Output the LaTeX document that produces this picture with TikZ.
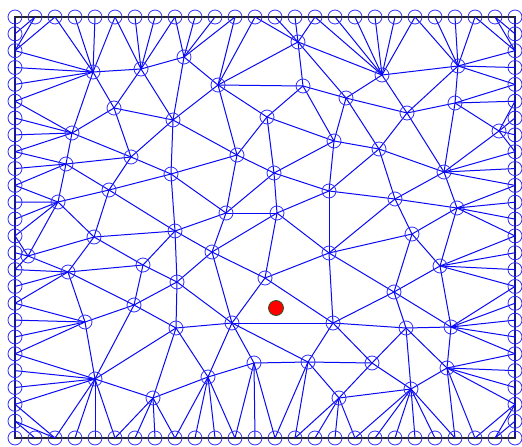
\documentclass[tikz,border=0pt]{standalone}
\definecolor{meshblue}{RGB}{10,10,245}
\definecolor{ringblue}{RGB}{45,45,255}
\definecolor{dotedge}{RGB}{40,90,40}
\begin{document}
\begin{tikzpicture}[x=1pt,y=-1pt,
  edge/.style={draw=meshblue,line width=1pt},
  ring/.style={draw=ringblue,line width=0.8pt},
  frame/.style={draw=black!85,line width=1.6pt}]
\useasboundingbox (0,0) rectangle (522,447);
\fill[white] (0,0) rectangle (522,447);
% boundary nodes
\foreach \i in {0,...,25}{
  \coordinate (T\i) at ({15+20*\i},17);
  \coordinate (B\i) at ({15+20*\i},438);
  \coordinate (L\i) at (15,{17+16.84*\i});
  \coordinate (R\i) at (515,{17+16.84*\i});
}
% interior nodes
\foreach \n/\x/\y in {1/93/72,2/141/69,3/184/57,4/298/42,5/382/75,6/458/66,7/218/85,8/303/86,
  9/346/98,10/114/108,11/173/120,12/267/117,13/407/113,14/455/103,15/499/131,16/72/133,
  17/131/157,18/237/155,19/334/141,20/379/149,21/66/164,22/109/190,23/171/174,24/274/173,
  25/329/191,26/444/172,27/58/202,28/226/213,29/277/213,30/395/199,31/457/208,32/94/237,
  33/175/231,34/212/252,35/329/253,36/412/234,37/28/256,38/68/272,39/143/265,40/265/278,
  41/440/266,42/177/282,43/394/292,44/134/305,45/85/322,46/176/328,47/232/323,48/333/323,
  49/406/328,50/451/327,51/254/363,52/308/362,53/372/363,54/447/368,55/95/379,56/208/377,
  57/153/398,58/339/398,59/411/389}{
  \coordinate (n\n) at (\x,\y);
}
\coordinate (dot) at (276,308);
% frame
\draw[frame] (T0) rectangle (B25);
% boundary chains on the left and right sides
\foreach \i [evaluate=\i as \j using int(\i+1)] in {0,...,24}{
  \draw[edge] (L\i) -- (L\j);
  \draw[edge] (R\i) -- (R\j);
}
% boundary to interior connectors
\foreach \a/\b in {T1/L1,T1/L2,T2/L2,T2/n1,T3/n1,T4/n1,T5/n1,T5/n2,T6/n2,T7/n2,T8/n2,T8/n3,
  T9/n3,T10/n3,T11/n3,T11/n7,T12/n7,T12/n4,T13/n4,T14/n4,T15/n4,T15/n5,T16/n5,T17/n5,T18/n5,
  T19/n5,T20/n5,T20/n6,T21/n6,T22/n6,T23/n6,T23/R2,T24/R2,T24/R1,
  L2/n1,L3/n1,L4/n1,L5/n1,L5/n16,L6/n16,L7/n16,L8/n16,L8/n21,L9/n21,L10/n21,L10/n27,L11/n27,
  L12/n27,L13/n27,L13/n37,L14/n37,L15/n37,L15/n38,L16/n38,L17/n38,L17/n45,L18/n45,L19/n45,
  L20/n45,L20/n55,L21/n55,L22/n55,L23/n55,L23/B2,L24/B2,L24/B1,
  B2/n55,B3/n55,B4/n55,B5/n55,B5/n57,B6/n57,B7/n57,B8/n57,B8/n56,B9/n56,B10/n56,B11/n56,
  B11/n51,B12/n51,B13/n51,B13/n52,B14/n52,B14/n58,B15/n58,B16/n58,B17/n58,B17/n59,B18/n59,
  B19/n59,B20/n59,B21/n59,B22/n59,B22/n54,B23/n54,B23/R23,B24/R23,B24/R24,
  R2/n6,R3/n6,R4/n6,R4/n14,R5/n14,R5/n15,R6/n15,R7/n15,R8/n15,R8/n26,R9/n26,R10/n26,R10/n31,
  R11/n31,R12/n31,R13/n31,R13/n41,R14/n41,R15/n41,R16/n41,R16/n50,R17/n50,R18/n50,R19/n50,
  R20/n50,R20/n54,R21/n54,R22/n54,R23/n54}{
  \draw[edge] (\a) -- (\b);
}
% interior connectors
\foreach \a/\b in {n1/n2,n1/n10,n1/n16,n2/n3,n2/n10,n2/n11,n3/n7,n3/n11,n4/n5,n4/n7,n4/n8,n4/n9,
  n5/n6,n5/n9,n5/n13,n6/n13,n6/n14,n7/n8,n7/n11,n7/n12,n7/n18,n8/n9,n8/n12,n8/n19,n9/n13,n9/n19,
  n9/n20,n10/n11,n10/n16,n10/n17,n11/n17,n11/n18,n11/n23,n12/n18,n12/n19,n12/n24,n13/n14,n13/n20,
  n13/n26,n14/n15,n14/n26,n15/n26,n16/n17,n16/n21,n17/n21,n17/n22,n17/n23,n18/n23,n18/n24,n18/n28,
  n19/n20,n19/n24,n19/n25,n20/n25,n20/n26,n20/n30,n21/n22,n21/n27,n22/n23,n22/n27,n22/n32,n22/n33,
  n23/n28,n23/n33,n24/n25,n24/n28,n24/n29,n25/n29,n25/n30,n25/n35,n26/n30,n26/n31,n27/n32,n27/n37,
  n28/n29,n28/n33,n28/n34,n29/n34,n29/n35,n29/n40,n30/n31,n30/n35,n30/n36,n31/n36,n31/n41,n32/n33,
  n32/n37,n32/n38,n32/n39,n33/n34,n33/n39,n33/n42,n34/n40,n34/n42,n34/n47,n35/n36,n35/n40,n35/n43,
  n35/n48,n36/n41,n36/n43,n37/n38,n38/n39,n38/n44,n38/n45,n39/n42,n39/n44,n40/n47,n40/n48,n41/n43,
  n41/n50,n42/n44,n42/n46,n42/n47,n43/n48,n43/n49,n43/n50,n44/n45,n44/n46,n44/n55,n45/n55,n46/n47,
  n46/n55,n46/n56,n46/n57,n47/n48,n47/n51,n47/n52,n47/n56,n48/n49,n48/n52,n48/n53,n49/n50,n49/n53,
  n49/n54,n49/n59,n50/n54,n51/n52,n51/n56,n52/n53,n52/n58,n53/n58,n53/n59,n54/n59,n55/n57,n56/n57,
  n58/n59}{
  \draw[edge] (\a) -- (\b);
}
% rings
\foreach \i in {0,...,25}{
  \draw[ring] (T\i) circle[radius=7pt];
  \draw[ring] (B\i) circle[radius=7pt];
}
\foreach \i in {1,...,24}{
  \draw[ring] (L\i) circle[radius=7pt];
  \draw[ring] (R\i) circle[radius=7pt];
}
\foreach \n in {1,...,59}{
  \draw[ring] (n\n) circle[radius=7pt];
}
\fill[red,draw=dotedge,line width=0.8pt] (dot) circle[radius=7.5pt];
\end{tikzpicture}
\end{document}
